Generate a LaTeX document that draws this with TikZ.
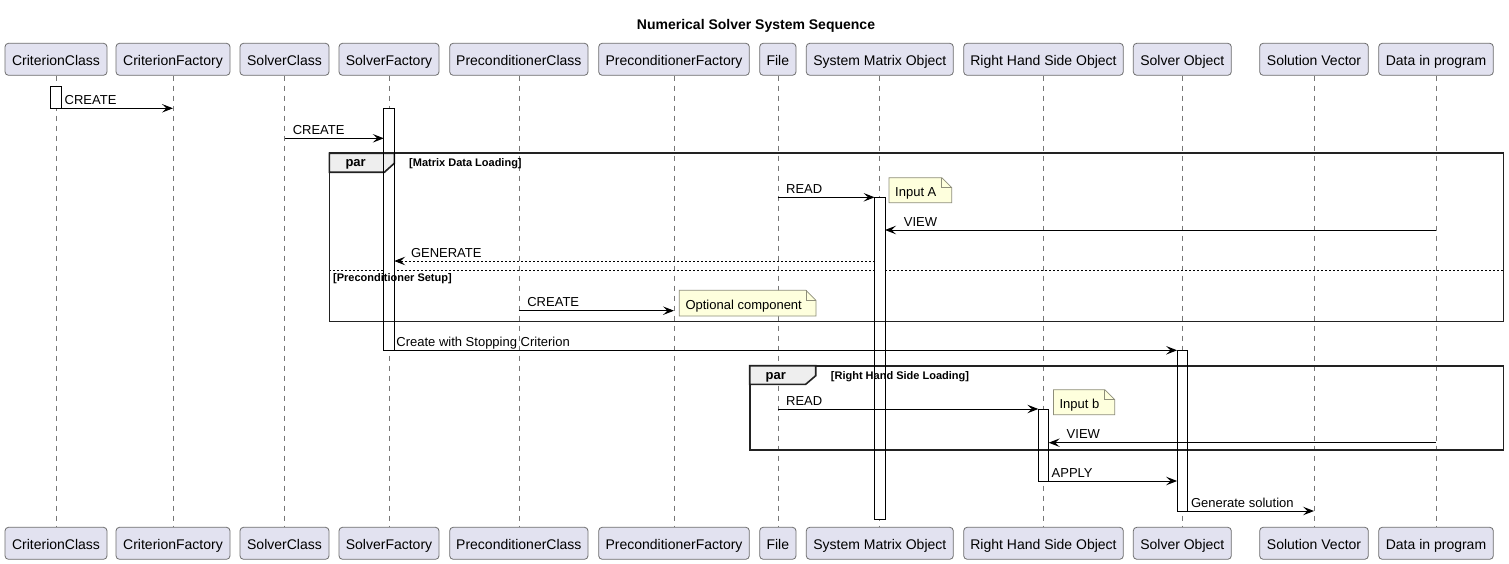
\documentclass[tikz,border=0pt]{standalone}
\usepackage{fontspec}
\setmainfont{Liberation Sans}
\usetikzlibrary{arrows.meta,calc}
\definecolor{partfill}{HTML}{E2E2F0}
\definecolor{partborder}{HTML}{6E6E6E}
\definecolor{lifecol}{HTML}{777777}
\definecolor{notefill}{HTML}{FEFFDD}
\definecolor{noteborder}{HTML}{8E8E7A}
\definecolor{tabfill}{HTML}{EEEEEE}
\definecolor{framecol}{HTML}{222222}
\tikzset{
  participant/.style={draw=partborder, fill=partfill, rounded corners=3.5pt, line width=0.8pt,
    minimum height=32pt, inner sep=0pt, text height=15.8pt, text depth=3pt,
    font=\fontsize{14}{16}\selectfont},
  lifeline/.style={draw=lifecol, line width=0.7pt, dash pattern=on 5pt off 5pt},
  actbar/.style={draw=none, fill=white, minimum width=10pt, inner sep=0pt, anchor=north},
  actline/.style={draw=black, line width=0.8pt},
  msg/.style={draw=black, line width=1pt, -{Stealth[length=11pt,width=8.5pt,inset=4.5pt]}},
  dmsg/.style={msg, dash pattern=on 2pt off 2pt},
  lbl/.style={font=\fontsize{13}{15}\selectfont, anchor=base west, inner sep=0pt, yshift=4pt},
  notestyle/.style={draw=noteborder, fill=notefill, line width=0.7pt},
  notetext/.style={font=\fontsize{13}{15}\selectfont, anchor=base west, inner sep=0pt},
  frameline/.style={draw=framecol, line width=1.6pt},
  septline/.style={draw=black, line width=0.8pt, dash pattern=on 2pt off 2pt},
  partag/.style={font=\bfseries\fontsize{13}{15}\selectfont, anchor=base west, inner sep=0pt},
  guard/.style={font=\bfseries\fontsize{11}{13}\selectfont, anchor=base west, inner sep=0pt},
}
\newcommand{\partic}[4]{%
  \node[participant, minimum width=#3] (#1-t) at (#2,59.3) {#4};
  \node[participant, minimum width=#3] (#1-b) at (#2,543.3) {#4};
  \draw[lifeline] (#1-t.south) -- (#1-b.north);
}
\newcommand{\notebox}[6]{%
  \filldraw[notestyle] (#2,#3) -- (#4-10,#3) -- (#4,#3+10) -- (#4,#5) -- (#2,#5) -- cycle;
  \draw[notestyle, fill=none] (#4-10,#3) -- (#4-10,#3+10) -- (#4,#3+10);
  \node[notetext] (#1) at (#2+6,#5-6.5) {#6};
}
\begin{document}
\begin{tikzpicture}[x=1pt,y=-1pt]
\path[use as bounding box, fill=white] (0,0) rectangle (1509,564);

% title
\node[font=\bfseries\fontsize{14}{16}\selectfont, anchor=base, inner sep=0pt] (title) at (756,29.5) {Numerical Solver System Sequence};

% participants
\partic{CC}{56}{102pt}{CriterionClass}
\partic{CF}{173}{114pt}{CriterionFactory}
\partic{SC}{284.5}{89pt}{SolverClass}
\partic{SF}{389}{100pt}{SolverFactory}
\partic{PC}{518.85}{138.3pt}{PreconditionerClass}
\partic{PF}{674}{150.6pt}{PreconditionerFactory}
\partic{FI}{777.85}{36.3pt}{File}
\partic{SM}{879.8}{147pt}{System Matrix Object}
\partic{RH}{1043.5}{159.6pt}{Right Hand Side Object}
\partic{SO}{1182.3}{98pt}{Solver Object}
\partic{SV}{1314}{108.6pt}{Solution Vector}
\partic{DP}{1436}{114.6pt}{Data in program}

% message levels
\coordinate (y0) at (0,86);
\coordinate (y1) at (0,108.3);
\coordinate (y2) at (0,138.3);
\coordinate (y3) at (0,197.3);
\coordinate (y4) at (0,230);
\coordinate (y5) at (0,261);
\coordinate (y6) at (0,310.7);
\coordinate (y7) at (0,350.3);
\coordinate (y8) at (0,409);
\coordinate (y9) at (0,442.7);
\coordinate (y10) at (0,481);
\coordinate (y11) at (0,511);

% separator of first par
\draw[septline] (329.3,270) -- (1503.3,270);

% activation bars (white ground)
\node[actbar, minimum height=22.3pt] (aCC) at (CC-t |- y0) {};
\node[actbar, minimum height=242pt] (aSF) at (SF-t |- y1) {};
\node[actbar, minimum height=321.7pt] (aSM) at (SM-t |- y3) {};
\node[actbar, minimum height=72pt] (aRH) at (RH-t |- y8) {};
\node[actbar, minimum height=160.7pt] (aSO) at (SO-t |- y7) {};

% par frames
\draw[frameline] (329.3,153.3) rectangle (1503.3,321.5);
\filldraw[frameline, fill=tabfill] (329.3,153.3) -- (394.3,153.3) -- (394.3,163.3) -- (384.3,172.3) -- (329.3,172.3) -- cycle;
\draw[frameline] (749.7,365.7) rectangle (1503.3,450);
\filldraw[frameline, fill=tabfill] (749.7,365.7) -- (815.7,365.7) -- (815.7,375.7) -- (805.7,384.3) -- (749.7,384.3) -- cycle;

% activation bar outlines
\foreach \b in {aCC,aSF,aSM,aRH,aSO}
  \draw[actline] (\b.north west) rectangle (\b.south east);

% messages
\draw[msg] (aCC.east |- y1) -- (CF-t |- y1) node[lbl, pos=0, xshift=3pt] {CREATE};
\draw[msg] (SC-t |- y2) -- (aSF.west |- y2) node[lbl, pos=0, xshift=7.8pt] {CREATE};
\draw[msg] (FI-t |- y3) -- (aSM.west |- y3) node[lbl, pos=0, xshift=7.8pt] {READ};
\draw[msg] (DP-t |- y4) -- (aSM.east |- y4) node[lbl, pos=1, xshift=18.4pt] {VIEW};
\draw[dmsg] (aSM.west |- y5) -- (aSF.east |- y5) node[lbl, pos=1, xshift=16.3pt] {GENERATE};
\draw[msg] (PC-t |- y6) -- (PF-t |- y6) node[lbl, pos=0, xshift=8pt] {CREATE};
\draw[msg] (aSF.east |- y7) -- (aSO.west |- y7) node[lbl, pos=0, xshift=1.7pt] {Create with Stopping Criterion};
\draw[msg] (FI-t |- y8) -- (aRH.west |- y8) node[lbl, pos=0, xshift=7.8pt] {READ};
\draw[msg] (DP-t |- y9) -- (aRH.east |- y9) node[lbl, pos=1, xshift=17.5pt] {VIEW};
\draw[msg] (aRH.east |- y10) -- (aSO.west |- y10) node[lbl, pos=0, xshift=2.5pt] {APPLY};
\draw[msg] (aSO.east |- y11) -- (SV-t |- y11) node[lbl, pos=0, xshift=3pt] {Generate solution};

% notes
\notebox{nA}{889}{177.7}{951.7}{202.7}{Input A}
\notebox{nO}{679.3}{290.3}{816}{316}{Optional component}
\notebox{nB}{1053.4}{389.7}{1114.7}{414.7}{Input b}

% frame labels
\node[partag] (par1) at (345.3,166.8) {par};
\node[guard] (g1) at (409,166.3) {[Matrix Data Loading]};
\node[guard] (g2) at (333,281) {[Preconditioner Setup]};
\node[partag] (par2) at (765.5,379.2) {par};
\node[guard] (g3) at (830.7,379) {[Right Hand Side Loading]};
\end{tikzpicture}
\end{document}
